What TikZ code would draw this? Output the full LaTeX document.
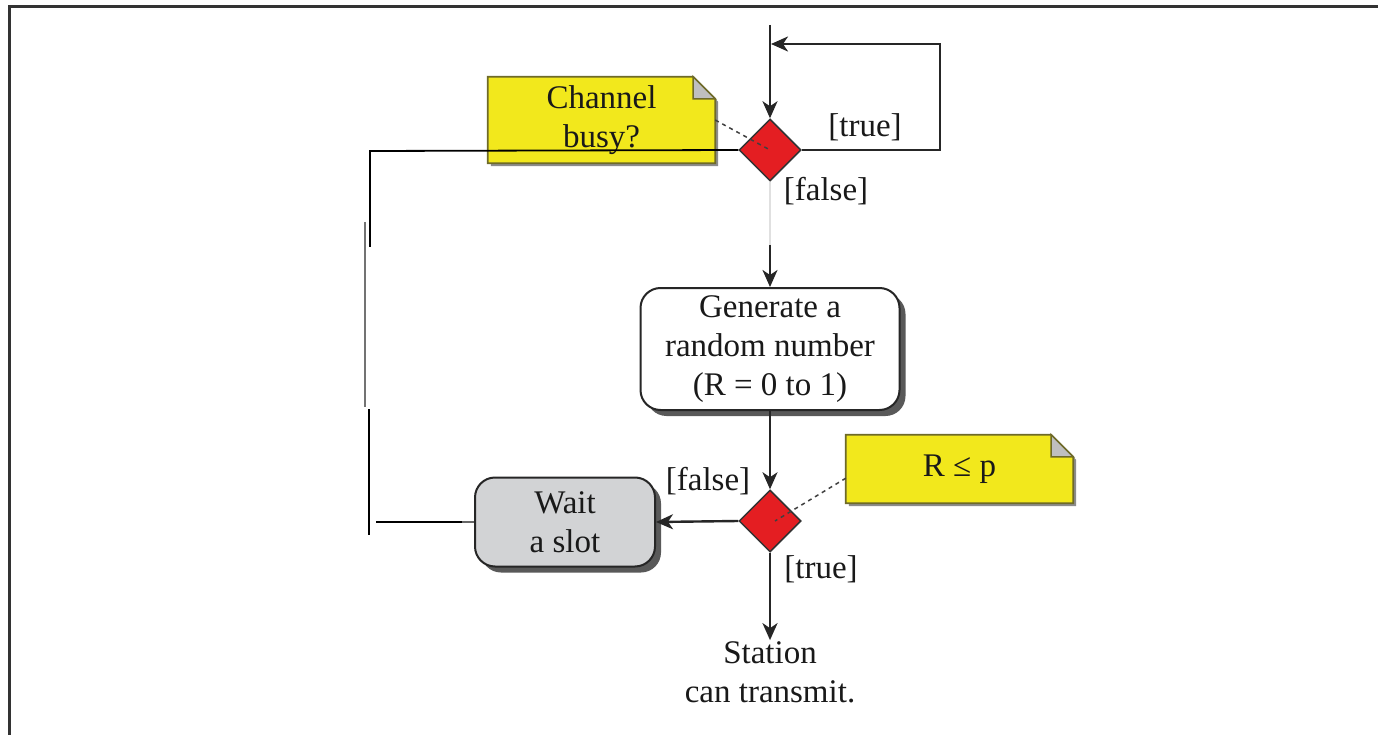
\documentclass[tikz,border=0pt]{standalone}
\usepackage{fontspec}
\setmainfont{Liberation Serif}
\usetikzlibrary{shapes.geometric,arrows.meta,calc,backgrounds,shadows}
\definecolor{dred}{HTML}{E41E22}
\definecolor{nyel}{HTML}{F2E81C}
\definecolor{nedge}{HTML}{6E6A28}
\definecolor{boxgray}{HTML}{D2D3D5}
\pgfdeclarelayer{bottom}
\pgfsetlayers{bottom,background,main}
\begin{document}
\begin{tikzpicture}[x=1pt,y=-1pt,
  every node/.style={font=\fontsize{33}{39}\selectfont, text=black!90},
  decision/.style={diamond, draw=black!80, line width=1.5pt, fill=dred, minimum width=62pt, minimum height=62pt, inner sep=0pt},
  action/.style={rectangle, rounded corners=20pt, draw=black!85, line width=2pt, align=center,
     drop shadow={shadow xshift=6pt, shadow yshift=-6pt, fill=black!65, opacity=1}},
  notebox/.style={rectangle, align=center, inner sep=0pt},
  flow/.style={draw=black!85, line width=2.4pt, -{Stealth[length=17pt,width=15pt,inset=5pt]}},
  back/.style={draw=black, line width=1.8pt},
  guard/.style={font=\fontsize{33}{39}\selectfont},
  dashlink/.style={draw=black!75, line width=1.5pt, dashed, dash pattern=on 4pt off 4pt},
]
\useasboundingbox (0,0) rectangle (1378,735);
\begin{pgfonlayer}{bottom}
\fill[white] (0,0) rectangle (1378,735);
\end{pgfonlayer}
% frame
\coordinate (fbl) at (9,735);
\coordinate (ftl) at (9,7);
\coordinate (ftr) at (1378,7);
\draw[line width=3pt, black!80] (fbl) -- (ftl) -- (ftr);

% nodes
\node[decision] (d1) at (770,150) {};
\node[decision] (d2) at (770,521) {};
\node[action, fill=white, minimum width=259pt, minimum height=122pt] (gen) at (770,349)
  {Generate a\\random number\\(R = 0 to 1)};
\node[action, fill=boxgray, minimum width=180pt, minimum height=89pt] (wait) at (565,522)
  {Wait\\a slot};
\node[notebox, minimum width=227pt, minimum height=86pt] (n1) at (601.5,120) {Channel\\busy?};
\node[notebox, minimum width=227pt, minimum height=68pt] (n2) at (959.5,469) {R ≤ p};
\node[align=center, inner sep=1pt] (st) at (770,672) {Station\\can transmit.};

% note backgrounds
\begin{scope}[on background layer]
  \foreach \n in {n1,n2}{
    \fill[black!45] ($(\n.south west)+(3,3)$) -- ($(\n.north west)+(3,3)$) -- ($(\n.north east)+(-19,3)$)
      -- ($(\n.north east)+(3,25)$) -- ($(\n.south east)+(3,3)$) -- cycle;
    \filldraw[fill=nyel, draw=nedge, line width=1.8pt] (\n.south west) -- (\n.north west)
      -- ($(\n.north east)+(-22,0)$) -- ($(\n.north east)+(0,22)$) -- (\n.south east) -- cycle;
    \filldraw[fill=black!25, draw=nedge, line width=1.5pt] ($(\n.north east)+(-22,0)$)
      -- ($(\n.north east)+(-22,22)$) -- ($(\n.north east)+(0,22)$) -- cycle;
  }
\end{scope}

% connectors
\coordinate (top) at (770,25);
\draw[flow] (top) -- (d1.north);
\coordinate (lr) at (940,150);
\coordinate (lt) at (940,44);
\coordinate (li) at (771,44);
\draw[flow] (d1.east) -- (lr) -- (lt) -- (li);
\node[guard] (t1) at (865,127) {[true]};
\node[guard] (f1) at (826,191) {[false]};
\coordinate (brk) at (770,245);
\draw[black!12, line width=1.5pt] (d1.south) -- (brk);
\draw[flow] (brk) -- (gen.north);
\draw[flow] (gen.south) -- (d2.north);
\draw[flow] (d2.west) -- (wait.east);
\node[guard] (f2) at (708,481) {[false]};
\node[guard] (t2) at (821,569) {[true]};
\draw[flow] (d2.south) -- (st.north);

% dashed note links
\draw[dashlink] (n1.east) -- (d1.center);
\draw[dashlink] ($(n2.south west)+(0,-25)$) -- ($(d2.center)+(5,0)$);

% return path (broken as in the picture)
\coordinate (r1) at (370,151);
\coordinate (r2) at (370,247);
\coordinate (g1) at (365,222);
\coordinate (g2) at (365,407);
\coordinate (r3) at (369,409);
\coordinate (r4) at (369,535);
\coordinate (h1) at (376,522);
\coordinate (h2) at (462,522);
\draw[back] (d1.west) -- (r1) -- (r2);
\draw[back, black!55, line width=2.5pt] (g1) -- (g2);
\draw[back] (r3) -- (r4);
\draw[back] (h1) -- (h2);
\draw[back, black!60] (h2) -- (wait.west);
\end{tikzpicture}
\end{document}
